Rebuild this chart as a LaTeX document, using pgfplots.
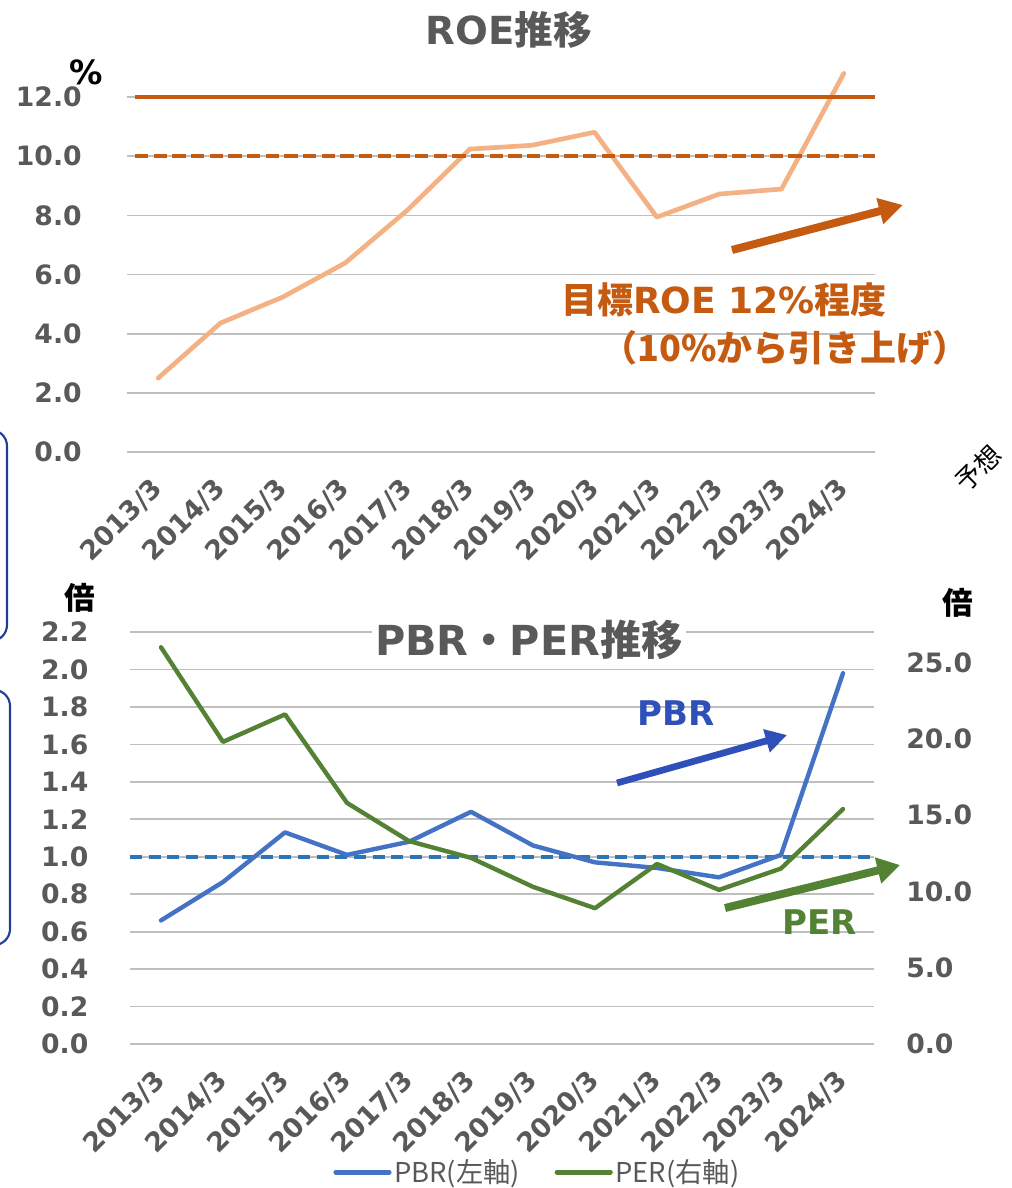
\documentclass[border=0pt]{standalone}
\usepackage{fontspec}
\setmainfont{DejaVu Sans}
\newfontfamily\cjk{Noto Sans CJK JP}
\usepackage{pgfplots}
\pgfplotsset{compat=1.18}
\usetikzlibrary{arrows.meta}
\definecolor{roe}{HTML}{F4B183}
\definecolor{tgt}{HTML}{C55A11}
\definecolor{grd}{HTML}{D9D9D9}
\definecolor{txt}{HTML}{595959}
\definecolor{pbr}{HTML}{4472C4}
\definecolor{per}{HTML}{548235}
\definecolor{dashb}{HTML}{2E75B6}
\definecolor{pbrarrow}{HTML}{2E50B8}
\definecolor{boxb}{HTML}{1F3F99}
\newcommand{\tf}{\fontsize{20}{20}\selectfont\bfseries}
\pgfplotsset{
  base/.style={
    scale only axis, clip=false,
    xmin=-0.5, xmax=11.5,
    axis line style={draw=none},
    major tick length=0pt,
    xtick={0,...,11},
    xticklabels={2013/3,2014/3,2015/3,2016/3,2017/3,2018/3,2019/3,2020/3,2021/3,2022/3,2023/3,2024/3},
    xticklabel style={font=\tf, text=txt, inner sep=0pt, xshift=0pt, yshift=-24pt, rotate=45, anchor=east},
    yticklabel style={font=\tf, text=txt, inner sep=0pt, anchor=east,
      /pgf/number format/fixed, /pgf/number format/fixed zerofill,
      /pgf/number format/precision=1, /pgf/number format/assume math mode=true},
  },
  grd/.style={ymajorgrids, grid style={grd, line width=1.3pt}},
}
\begin{document}
\begin{tikzpicture}
\useasboundingbox (0pt,0pt) rectangle (759pt,-891pt);

% ---------------- ROE chart ----------------
\begin{axis}[base, grd,
  at={(95.25pt,-339pt)}, anchor=south west,
  width=561pt, height=288.4pt,
  ymin=0, ymax=13, ytick={0,2,4,6,8,10,12},
  yticklabel style={xshift=-33.75pt}]
\addplot[roe, line width=3.5pt, line cap=round, line join=round] coordinates {
 (0,2.50) (1,4.36) (2,5.24) (3,6.39) (4,8.18) (5,10.24)
 (6,10.37) (7,10.81) (8,7.94) (9,8.72) (10,8.89) (11,12.80)};
\addplot[tgt, line width=3pt] coordinates {(-0.37,12) (11.5,12)};
\addplot[tgt, line width=3pt, dash pattern=on 10pt off 4pt] coordinates {(-0.37,10) (11.5,10)};
\end{axis}

% ---------------- PBR / PER chart ----------------
\begin{axis}[base, grd,
  at={(97.5pt,-783pt)}, anchor=south west,
  width=558pt, height=309pt,
  ymin=0, ymax=2.2, ytick={0,0.2,0.4,0.6,0.8,1.0,1.2,1.4,1.6,1.8,2.0,2.2},
  yticklabel style={xshift=-31pt}]
\addplot[dashb, line width=3pt, dash pattern=on 9pt off 5pt] coordinates {(-0.5,1) (11.5,1)};
\addplot[pbr, line width=3.3pt, line cap=round, line join=round] coordinates {
 (0,0.66) (1,0.865) (2,1.13) (3,1.01) (4,1.08) (5,1.24)
 (6,1.06) (7,0.97) (8,0.94) (9,0.89) (10,1.01) (11,1.98)};
\end{axis}

\begin{axis}[scale only axis, clip=false,
  at={(97.5pt,-783pt)}, anchor=south west,
  width=558pt, height=309pt,
  xmin=-0.5, xmax=11.5, ymin=0, ymax=27,
  hide x axis, axis y line*=right, axis line style={draw=none},
  major tick length=0pt, ytick={0,5,10,15,20,25},
  yticklabel style={font=\tf, text=txt, inner sep=0pt, anchor=west, xshift=24pt,
      /pgf/number format/fixed, /pgf/number format/fixed zerofill,
      /pgf/number format/precision=1, /pgf/number format/assume math mode=true},
  legend style={at={(0.548,-0.311)}, anchor=center, draw=none, fill=none,
      font=\cjk\fontsize{20.5}{20.5}\selectfont, text=txt, inner sep=0pt,
      /tikz/every even column/.append style={column sep=24pt}},
  legend columns=2,
  legend image code/.code={\draw[#1, line width=3.6pt, line cap=round] (0pt,0pt) -- (40pt,0pt);}]
\addlegendimage{pbr}
\addlegendentry{PBR(左軸)}
\addplot[per, line width=3.3pt, line cap=round, line join=round] coordinates {
 (0,26.0) (1,19.8) (2,21.6) (3,15.8) (4,13.3) (5,12.2)
 (6,10.3) (7,8.9) (8,11.8) (9,10.1) (10,11.5) (11,15.4)};
\addlegendentry{PER(右軸)}
\end{axis}

% ---------------- annotations ----------------
\begin{scope}[x=0.75pt, y=-0.75pt]
\begin{scope}
\clip (0,0) rectangle (1012,1188);
\draw[boxb, line width=1.6pt, rounded corners=12pt] (-40,430) rectangle (7,641);
\draw[boxb, line width=1.6pt, rounded corners=12pt] (-40,690) rectangle (10,945);
\end{scope}
\node[text=txt, font=\fontsize{29}{29}\selectfont\bfseries] at (509,30) {ROE{\cjk 推移}};
\node[font=\fontsize{25}{25}\selectfont\bfseries] at (86,72) {\%};
\node[text=tgt, font=\fontsize{27}{27}\selectfont\bfseries] at (724,300) {{\cjk 目標}ROE 12\%{\cjk 程度}};
\node[text=tgt, font=\fontsize{27}{27}\selectfont\bfseries\cjk] at (785,348) {（10\%から引き上げ）};
\draw[tgt, line width=6pt, -{Triangle[length=18pt, width=19pt]}] (732,250) -- (903,205);
\node[font=\fontsize{19.5}{19.5}\selectfont\cjk, rotate=45] at (978,468) {予想};

\node[text=txt, fill=white, inner sep=2pt, font=\fontsize{31}{31}\selectfont\bfseries] at (529,640) {PBR{\cjk ・}PER{\cjk 推移}};
\node[font=\fontsize{23}{23}\selectfont\bfseries\cjk] at (80,598) {倍};
\node[font=\fontsize{23}{23}\selectfont\bfseries\cjk] at (958,603) {倍};
\node[text=pbrarrow, font=\fontsize{25.5}{25.5}\selectfont\bfseries] at (676,713) {PBR};
\draw[pbrarrow, line width=5pt, -{Triangle[length=16pt, width=17pt]}] (617,783) -- (787,735);
\node[text=per, font=\fontsize{25.5}{25.5}\selectfont\bfseries] at (820,922) {PER};
\draw[per, line width=6pt, -{Triangle[length=17pt, width=19pt]}] (725,908) -- (900,865);
\end{scope}
\end{tikzpicture}
\end{document}
